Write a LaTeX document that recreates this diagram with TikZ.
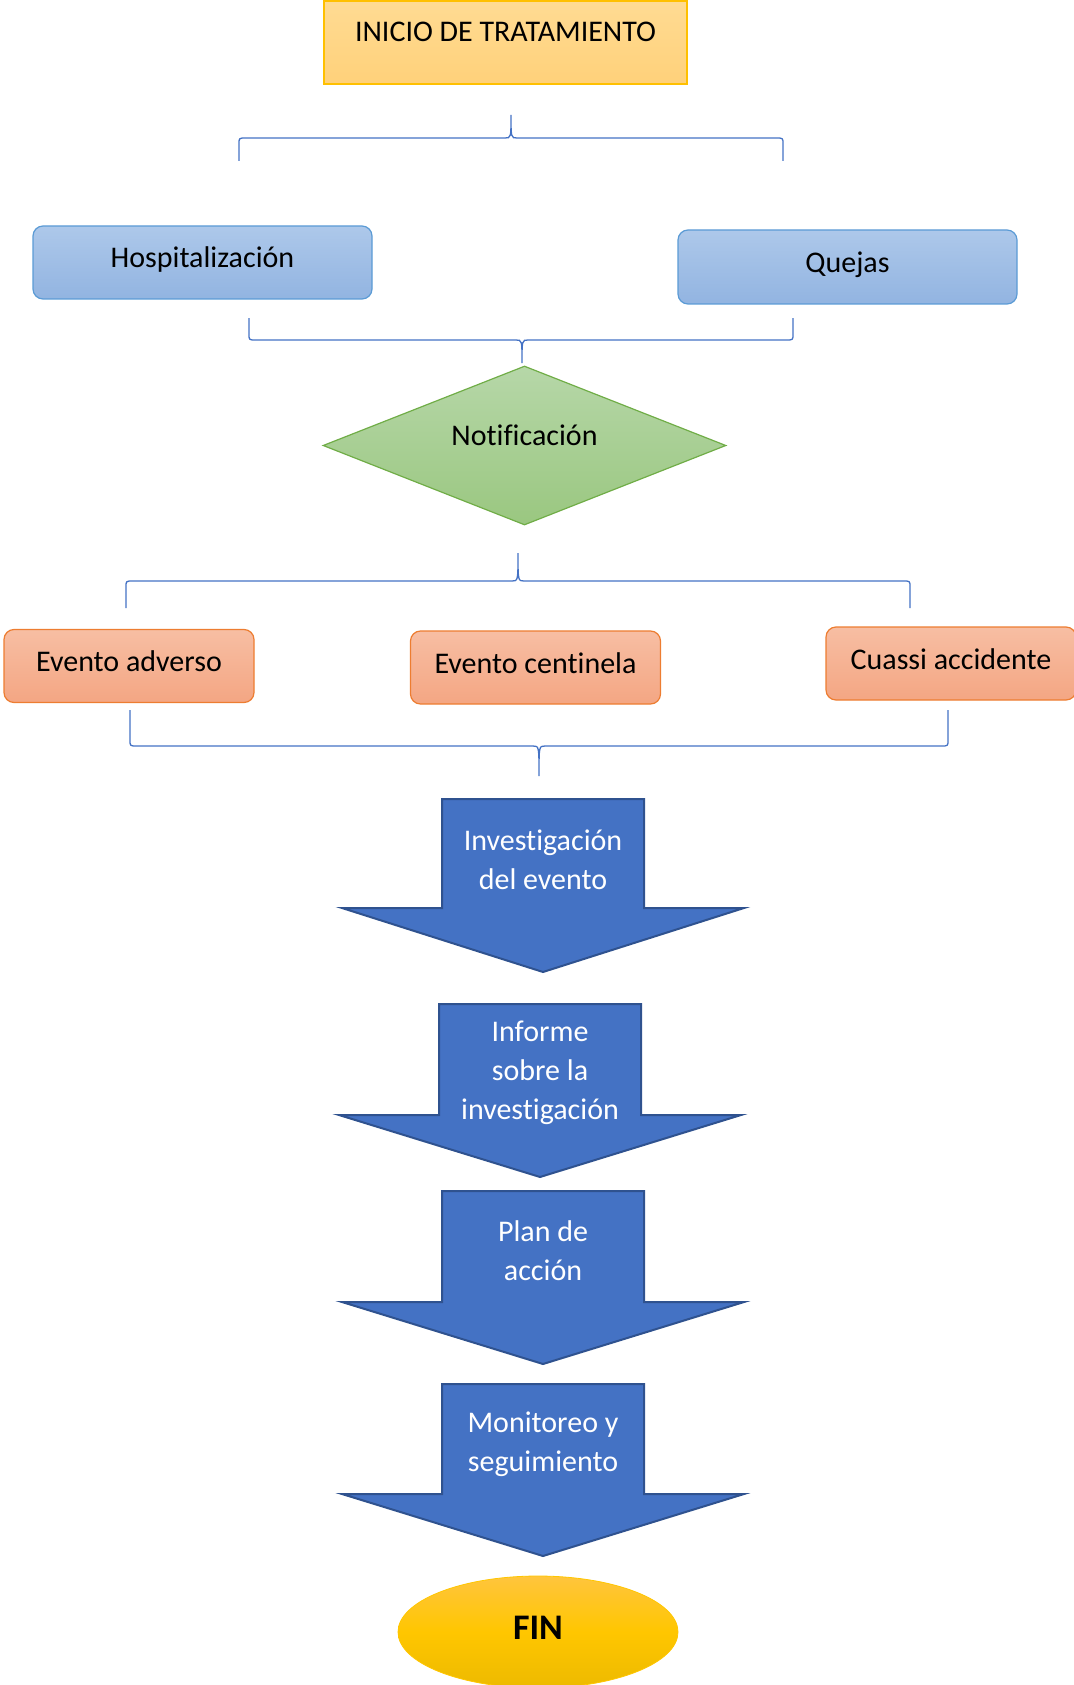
\documentclass[tikz,border=0pt]{standalone}
\usepackage{fontspec}
\setmainfont{Carlito}[Ligatures={NoCommon}]
\usetikzlibrary{shapes.geometric}
\definecolor{inicioTop}{HTML}{FFDB93}
\definecolor{inicioBot}{HTML}{FFD17A}
\definecolor{inicioLine}{HTML}{FFC000}
\definecolor{blueTop}{HTML}{ADC8EA}
\definecolor{blueBot}{HTML}{92B4E1}
\definecolor{blueLine}{HTML}{5B9BD5}
\definecolor{greenTop}{HTML}{B6D7A8}
\definecolor{greenBot}{HTML}{9AC780}
\definecolor{greenLine}{HTML}{70AD47}
\definecolor{orTop}{HTML}{F7BEA3}
\definecolor{orBot}{HTML}{F4A683}
\definecolor{orLine}{HTML}{ED7D31}
\definecolor{arrFill}{HTML}{4472C4}
\definecolor{arrLine}{HTML}{2F528F}
\definecolor{finTop}{HTML}{FFC53D}
\definecolor{finMid}{HTML}{FFC600}
\definecolor{finBot}{HTML}{EDBA00}
\newcommand\wbrace[7]{\draw[bracestyle] (#1,#5) -- (#1,#7) .. controls (#1,#4) .. (#1+7,#4) -- (#3-6,#4) .. controls (#3,#4) .. (#3,#6) .. controls (#3,#4) .. (#3+6,#4) -- (#2-7,#4) .. controls (#2,#4) .. (#2,#7) -- (#2,#5);}
\newcommand\blockarrow[4]{\draw[barrow] (#1-101,#2) -- (#1+101,#2) -- (#1+101,#3) -- (#1+201,#3) -- (#1,#4) -- (#1-201,#3) -- (#1-101,#3) -- cycle;}
\begin{document}
\begin{tikzpicture}[x=1pt,y=-1pt,
  every node/.style={font=\fontsize{30}{39}\selectfont, inner sep=0pt},
  inicio/.style={draw=inicioLine, line width=1.5pt, top color=inicioTop, bottom color=inicioBot},
  bluebox/.style={draw=blueLine, line width=1.2pt, rounded corners=10pt, top color=blueTop, bottom color=blueBot, text height=20pt, text depth=9pt},
  orbox/.style={draw=orLine, line width=1.2pt, rounded corners=10pt, top color=orTop, bottom color=orBot, minimum width=250pt, minimum height=73pt, text height=20pt, text depth=9pt},
  diam/.style={diamond, shape aspect=2.5, draw=greenLine, line width=1.2pt, top color=greenTop, bottom color=greenBot},
  bracestyle/.style={draw=arrFill, line width=1.3pt},
  barrow/.style={draw=arrLine, line width=2pt, fill=arrFill, line join=miter},
  arrtext/.style={text=white, align=center},
]
\useasboundingbox (0,0) rectangle (1073,1685);

\node[inicio, minimum width=363pt, minimum height=83pt] (inicio) at (505.5,42.5) {\raisebox{21pt}{INICIO DE TRATAMIENTO}};

\wbrace{239}{783}{511}{138}{161}{115}{144}

\node[bluebox, minimum width=339pt, minimum height=73pt] (hosp) at (202.5,262.5) {Hospitalización};
\node[bluebox, minimum width=339pt, minimum height=74pt] (quejas) at (847.5,267) {Quejas};

\wbrace{249}{793}{522}{340}{318}{363}{334}

\node[diam, minimum width=403pt, minimum height=159pt] (notif) at (524.5,445.5) {\raisebox{20pt}{Notificación}};

\wbrace{126}{910}{518}{581}{608}{553}{587}

\node[orbox] (adverso) at (129,666) {Evento adverso};
\node[orbox] (centinela) at (535.5,667.5) {Evento centinela};
\node[orbox] (cuassi) at (951,663.5) {Cuassi accidente};

\wbrace{130}{948}{539}{746}{710}{776}{740}

\blockarrow{543}{799}{908}{972}
\node[arrtext] (inv) at (543,860) {Investigación\\del evento};

\blockarrow{540}{1004}{1115}{1177}
\node[arrtext] (inf) at (540,1073) {Informe\\sobre la\\investigación};

\blockarrow{543}{1191}{1302}{1364}
\node[arrtext] (plan) at (543,1251) {Plan de\\acción};

\blockarrow{543}{1384}{1494}{1556}
\node[arrtext] (mon) at (543,1444) {Monitoreo y\\seguimiento};

\path[top color=finTop, bottom color=finBot, middle color=finMid, draw=finMid, line width=0.8pt] (538,1632) ellipse [x radius=140pt, y radius=56pt];
\node[font=\fontsize{36}{40}\bfseries\selectfont] (fin) at (538,1628) {FIN};
\end{tikzpicture}
\end{document}
